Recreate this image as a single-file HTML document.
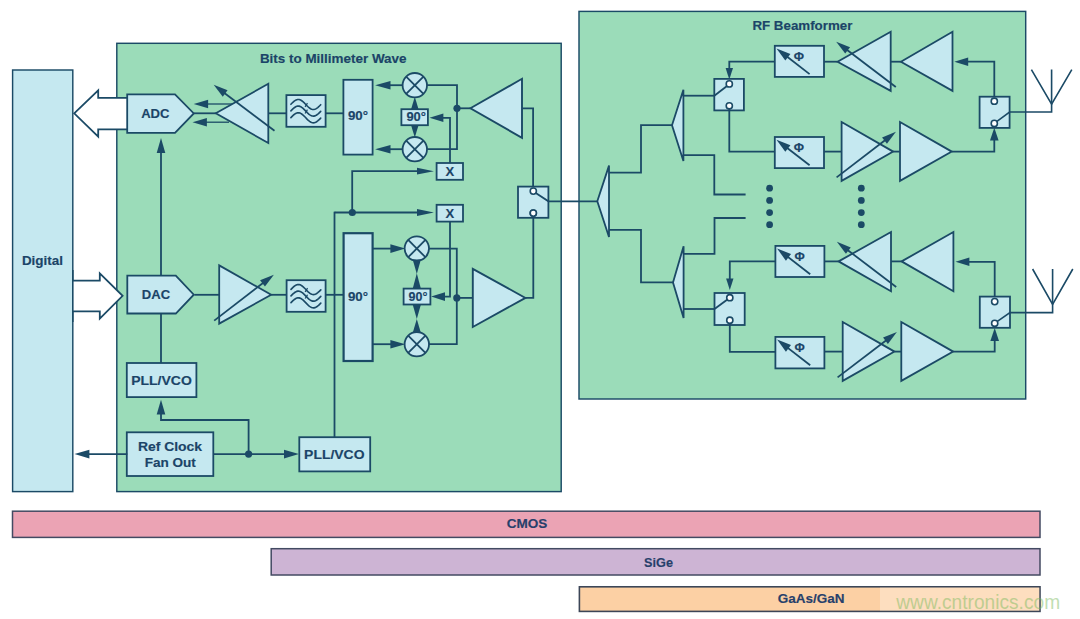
<!DOCTYPE html>
<html lang="en"><head><meta charset="utf-8"><title>Bits to Millimeter Wave / RF Beamformer block diagram</title>
<style>html,body{margin:0;padding:0;background:#fff;}body{width:1080px;height:619px;overflow:hidden;}svg{display:block;font-family:"Liberation Sans",Arial,Helvetica,sans-serif;}</style></head><body>
<svg width="1080" height="619" viewBox="0 0 1080 619">
<rect x="0" y="0" width="1080" height="619" fill="#ffffff"/>
<rect x="12.6" y="70" width="60.2" height="421.6" fill="#c5e8f0" stroke="#1b4a66" stroke-width="1.45"/>
<rect x="116.8" y="43.3" width="444.4" height="448.3" fill="#9bdcb9" stroke="#1b4a66" stroke-width="1.45"/>
<rect x="579" y="11.4" width="446.7" height="387.6" fill="#9bdcb9" stroke="#1b4a66" stroke-width="1.45"/>
<text x="42.4" y="264.6" font-size="12.6" font-weight="bold" text-anchor="middle" fill="#1b4468" stroke="#1b4468" stroke-width="0.15" textLength="41" lengthAdjust="spacingAndGlyphs">Digital</text>
<text x="333.2" y="62.8" font-size="12.6" font-weight="bold" text-anchor="middle" fill="#1b4468" stroke="#1b4468" stroke-width="0.15" textLength="146.6" lengthAdjust="spacingAndGlyphs">Bits to Millimeter Wave</text>
<text x="802.4" y="29.7" font-size="12.6" font-weight="bold" text-anchor="middle" fill="#1b4468" stroke="#1b4468" stroke-width="0.15" textLength="100" lengthAdjust="spacingAndGlyphs">RF Beamformer</text>
<rect x="12.5" y="511.2" width="1027.5" height="26.2" fill="#eba3b4" stroke="#434a62" stroke-width="1.5"/>
<rect x="271.2" y="548.7" width="768.8" height="26.3" fill="#cdb4d4" stroke="#434a62" stroke-width="1.5"/>
<rect x="579.4" y="586.8" width="460.6" height="24.6" fill="#fcd0a4" stroke="#3c4658" stroke-width="1.6"/>
<text x="527" y="527.9" font-size="12.6" font-weight="bold" text-anchor="middle" fill="#27406b" stroke="#27406b" stroke-width="0.15" textLength="40.6" lengthAdjust="spacingAndGlyphs">CMOS</text>
<text x="658.5" y="566.5" font-size="12.6" font-weight="bold" text-anchor="middle" fill="#27406b" stroke="#27406b" stroke-width="0.15" textLength="28.9" lengthAdjust="spacingAndGlyphs">SiGe</text>
<text x="811.1" y="603.1" font-size="12.6" font-weight="bold" text-anchor="middle" fill="#27406b" stroke="#27406b" stroke-width="0.15" textLength="66.6" lengthAdjust="spacingAndGlyphs">GaAs/GaN</text>
<rect x="880" y="587.5" width="159.4" height="23.2" fill="#ffffff" opacity="0.3"/>
<text x="896.3" y="609.3" font-size="19.6" font-weight="normal" text-anchor="start" fill="#78b95a" textLength="163.8" lengthAdjust="spacingAndGlyphs" opacity="0.46">www.cntronics.com</text>
<polygon points="74.2,113.3 98.2,90.4 98.2,97.8 128,97.8 128,129.3 98.2,129.3 98.2,136.6" fill="#ffffff" stroke="#1b4a66" stroke-width="1.8" stroke-linejoin="miter"/>
<path d="M72.8,280.6 L99.8,280.6 L99.8,273.4 L122.6,295.8 L99.8,318.6 L99.8,311.4 L72.8,311.4" fill="#ffffff" stroke="#1b4a66" stroke-width="1.8" stroke-linejoin="miter"/>
<polyline points="72.8,270 72.8,322" fill="none" stroke="#1b4a66" stroke-width="1.6" stroke-linejoin="miter" stroke-linecap="butt"/>
<polygon points="127.2,94.4 175,94.4 193.8,113.4 175,132.8 127.2,132.8" fill="#c5e8f0" stroke="#1b4a66" stroke-width="1.8" stroke-linejoin="miter"/>
<text x="155.3" y="118" font-size="12.6" font-weight="bold" text-anchor="middle" fill="#1b4468" stroke="#1b4468" stroke-width="0.15" textLength="28.3" lengthAdjust="spacingAndGlyphs">ADC</text>
<polygon points="127.3,275.7 175.8,275.7 193.8,294.7 175.8,313.5 127.3,313.5" fill="#c5e8f0" stroke="#1b4a66" stroke-width="1.8" stroke-linejoin="miter"/>
<text x="156" y="299.4" font-size="12.6" font-weight="bold" text-anchor="middle" fill="#1b4468" stroke="#1b4468" stroke-width="0.15" textLength="28.3" lengthAdjust="spacingAndGlyphs">DAC</text>
<polyline points="161,275.6 161,150.2" fill="none" stroke="#1b4a66" stroke-width="1.8" stroke-linejoin="miter" stroke-linecap="butt"/>
<polygon points="161,138.1 165.3,153 156.7,153" fill="#1b4a66"/>
<polyline points="161,313.8 161,363.5" fill="none" stroke="#1b4a66" stroke-width="1.8" stroke-linejoin="miter" stroke-linecap="butt"/>
<rect x="126.8" y="363" width="69.6" height="34.1" fill="#c5e8f0" stroke="#1b4a66" stroke-width="1.8"/>
<text x="161.5" y="385" font-size="12.6" font-weight="bold" text-anchor="middle" fill="#1b4468" stroke="#1b4468" stroke-width="0.15" textLength="60.6" lengthAdjust="spacingAndGlyphs">PLL/VCO</text>
<rect x="126.8" y="432.3" width="86.5" height="43.7" fill="#c5e8f0" stroke="#1b4a66" stroke-width="1.8"/>
<text x="170" y="450.9" font-size="12.6" font-weight="bold" text-anchor="middle" fill="#1b4468" stroke="#1b4468" stroke-width="0.15" textLength="64.2" lengthAdjust="spacingAndGlyphs">Ref Clock</text>
<text x="170.3" y="467.3" font-size="12.6" font-weight="bold" text-anchor="middle" fill="#1b4468" stroke="#1b4468" stroke-width="0.15" textLength="51.2" lengthAdjust="spacingAndGlyphs">Fan Out</text>
<polyline points="127.3,454.1 86.6,454.1" fill="none" stroke="#1b4a66" stroke-width="1.8" stroke-linejoin="miter" stroke-linecap="butt"/>
<polygon points="74.5,454.1 89.4,449.8 89.4,458.4" fill="#1b4a66"/>
<polyline points="213,454.1 286.8,454.1" fill="none" stroke="#1b4a66" stroke-width="1.8" stroke-linejoin="miter" stroke-linecap="butt"/>
<polygon points="298.9,454.1 284,458.4 284,449.8" fill="#1b4a66"/>
<circle cx="248.6" cy="454.1" r="3.6" fill="#1b4a66"/>
<polyline points="248.6,454.1 248.6,420 161,420 161,411.8" fill="none" stroke="#1b4a66" stroke-width="1.8" stroke-linejoin="miter" stroke-linecap="butt"/>
<polygon points="161,399.7 165.3,414.6 156.7,414.6" fill="#1b4a66"/>
<rect x="299.3" y="437.2" width="70.9" height="34.2" fill="#c5e8f0" stroke="#1b4a66" stroke-width="1.8"/>
<text x="334.3" y="459" font-size="12.6" font-weight="bold" text-anchor="middle" fill="#1b4468" stroke="#1b4468" stroke-width="0.15" textLength="60.4" lengthAdjust="spacingAndGlyphs">PLL/VCO</text>
<polyline points="334.5,437.2 334.5,211.7" fill="none" stroke="#1b4a66" stroke-width="1.8" stroke-linejoin="miter" stroke-linecap="butt"/>
<polyline points="193.8,113.3 216,113.3" fill="none" stroke="#1b4a66" stroke-width="1.8" stroke-linejoin="miter" stroke-linecap="butt"/>
<polyline points="234,104 205.4,104" fill="none" stroke="#1b4a66" stroke-width="1.3" stroke-linejoin="miter" stroke-linecap="butt"/>
<polygon points="193.7,104 208.1,99.8 208.1,108.2" fill="#1b4a66"/>
<polyline points="229,122.2 204.2,122.2" fill="none" stroke="#1b4a66" stroke-width="1.3" stroke-linejoin="miter" stroke-linecap="butt"/>
<polygon points="192.5,122.2 206.9,118 206.9,126.4" fill="#1b4a66"/>
<polygon points="215.8,113.3 268.3,83.8 268.3,143" fill="#c5e8f0" stroke="#1b4a66" stroke-width="1.8" stroke-linejoin="miter"/>
<polyline points="274.5,130.8 223.02,91.91" fill="none" stroke="#1b4a66" stroke-width="1.8" stroke-linejoin="miter" stroke-linecap="butt"/>
<polygon points="213.68,84.86 227.58,90.35 222.76,96.73" fill="#1b4a66"/>
<polyline points="268.3,113.3 286.4,113.3" fill="none" stroke="#1b4a66" stroke-width="1.8" stroke-linejoin="miter" stroke-linecap="butt"/>
<rect x="286.4" y="95.1" width="39.2" height="31.7" fill="#c5e8f0" stroke="#1b4a66" stroke-width="1.8"/>
<polyline points="290.9,104.25 291.65,103.5 292.39,102.76 293.14,102.06 293.88,101.42 294.63,100.85 295.37,100.36 296.12,99.97 296.86,99.69 297.61,99.52 298.35,99.47 299.1,99.55 299.84,99.74 300.59,100.05 301.33,100.46 302.08,100.97 302.82,101.57 303.57,102.24 304.31,102.96 305.06,103.72 305.8,104.5 306.55,105.28 307.29,106.04 308.04,106.76 308.78,107.43 309.53,108.03 310.27,108.54 311.02,108.95 311.76,109.26 312.51,109.45 313.25,109.53 314,109.48 314.74,109.31 315.49,109.03 316.23,108.64 316.98,108.15 317.72,107.58 318.47,106.94 319.21,106.24 319.96,105.5 320.7,104.75" fill="none" stroke="#1b4a66" stroke-width="1.65" stroke-linecap="round" stroke-linejoin="round"/>
<polyline points="305.05,106.86 307.45,103.06" fill="none" stroke="#1b4a66" stroke-width="1.2" stroke-linejoin="miter" stroke-linecap="butt"/>
<polyline points="290.9,110.85 291.65,110.1 292.39,109.36 293.14,108.66 293.88,108.02 294.63,107.45 295.37,106.96 296.12,106.57 296.86,106.29 297.61,106.12 298.35,106.07 299.1,106.15 299.84,106.34 300.59,106.65 301.33,107.06 302.08,107.57 302.82,108.17 303.57,108.84 304.31,109.56 305.06,110.32 305.8,111.1 306.55,111.88 307.29,112.64 308.04,113.36 308.78,114.03 309.53,114.63 310.27,115.14 311.02,115.55 311.76,115.86 312.51,116.05 313.25,116.12 314,116.08 314.74,115.91 315.49,115.63 316.23,115.24 316.98,114.75 317.72,114.18 318.47,113.54 319.21,112.84 319.96,112.1 320.7,111.35" fill="none" stroke="#1b4a66" stroke-width="1.65" stroke-linecap="round" stroke-linejoin="round"/>
<polyline points="305.05,113.46 307.45,109.66" fill="none" stroke="#1b4a66" stroke-width="1.2" stroke-linejoin="miter" stroke-linecap="butt"/>
<polyline points="290.9,117.55 291.65,116.8 292.39,116.06 293.14,115.36 293.88,114.72 294.63,114.15 295.37,113.66 296.12,113.27 296.86,112.99 297.61,112.82 298.35,112.77 299.1,112.85 299.84,113.04 300.59,113.35 301.33,113.76 302.08,114.27 302.82,114.87 303.57,115.54 304.31,116.26 305.06,117.02 305.8,117.8 306.55,118.58 307.29,119.34 308.04,120.06 308.78,120.73 309.53,121.33 310.27,121.84 311.02,122.25 311.76,122.56 312.51,122.75 313.25,122.83 314,122.78 314.74,122.61 315.49,122.33 316.23,121.94 316.98,121.45 317.72,120.88 318.47,120.24 319.21,119.54 319.96,118.8 320.7,118.05" fill="none" stroke="#1b4a66" stroke-width="1.65" stroke-linecap="round" stroke-linejoin="round"/>
<polyline points="325.6,113.3 343.4,113.3" fill="none" stroke="#1b4a66" stroke-width="1.8" stroke-linejoin="miter" stroke-linecap="butt"/>
<rect x="343.4" y="79.8" width="29.2" height="74.8" fill="#c5e8f0" stroke="#1b4a66" stroke-width="1.8"/>
<text x="358" y="119.9" font-size="12.8" font-weight="bold" text-anchor="middle" fill="#1b4468" stroke="#1b4468" stroke-width="0.15" textLength="20.1" lengthAdjust="spacingAndGlyphs">90&#176;</text>
<polyline points="402.8,85.2 387.6,85.2" fill="none" stroke="#1b4a66" stroke-width="1.8" stroke-linejoin="miter" stroke-linecap="butt"/>
<polygon points="375.1,85.2 390.5,80.9 390.5,89.5" fill="#1b4a66"/>
<polyline points="402.8,149.2 387.6,149.2" fill="none" stroke="#1b4a66" stroke-width="1.8" stroke-linejoin="miter" stroke-linecap="butt"/>
<polygon points="375.1,149.2 390.5,144.9 390.5,153.5" fill="#1b4a66"/>
<polyline points="426.8,85.2 457,85.2 457,149.2 426.8,149.2" fill="none" stroke="#1b4a66" stroke-width="1.8" stroke-linejoin="miter" stroke-linecap="butt"/>
<circle cx="414.8" cy="85.2" r="12.2" fill="#c5e8f0" stroke="#1b4a66" stroke-width="1.8"/>
<polyline points="406.17,76.57 423.43,93.83" fill="none" stroke="#1b4a66" stroke-width="1.8" stroke-linejoin="miter" stroke-linecap="butt"/>
<polyline points="406.17,93.83 423.43,76.57" fill="none" stroke="#1b4a66" stroke-width="1.8" stroke-linejoin="miter" stroke-linecap="butt"/>
<circle cx="414.8" cy="149.2" r="12.2" fill="#c5e8f0" stroke="#1b4a66" stroke-width="1.8"/>
<polyline points="406.17,140.57 423.43,157.83" fill="none" stroke="#1b4a66" stroke-width="1.8" stroke-linejoin="miter" stroke-linecap="butt"/>
<polyline points="406.17,157.83 423.43,140.57" fill="none" stroke="#1b4a66" stroke-width="1.8" stroke-linejoin="miter" stroke-linecap="butt"/>
<rect x="401.4" y="109.2" width="26.5" height="16" fill="#c5e8f0" stroke="#1b4a66" stroke-width="1.8"/>
<text x="416.2" y="121.4" font-size="12.3" font-weight="bold" text-anchor="middle" fill="#1b4468" stroke="#1b4468" stroke-width="0.15" textLength="19.6" lengthAdjust="spacingAndGlyphs">90&#176;</text>
<polygon points="414.8,96.7 418.6,109.6 411,109.6" fill="#1b4a66"/>
<polygon points="414.8,137.5 411,125 418.6,125" fill="#1b4a66"/>
<circle cx="457" cy="108.3" r="3.6" fill="#1b4a66"/>
<polyline points="457,108.3 470.6,108.3" fill="none" stroke="#1b4a66" stroke-width="1.8" stroke-linejoin="miter" stroke-linecap="butt"/>
<polygon points="470.4,108.3 522,78.8 522,137.8" fill="#c5e8f0" stroke="#1b4a66" stroke-width="1.9" stroke-linejoin="miter"/>
<polyline points="522,108.3 533.1,108.3 533.1,188" fill="none" stroke="#1b4a66" stroke-width="1.8" stroke-linejoin="miter" stroke-linecap="butt"/>
<polyline points="450,163 450,117.8 440.8,117.8" fill="none" stroke="#1b4a66" stroke-width="1.8" stroke-linejoin="miter" stroke-linecap="butt"/>
<polygon points="429.5,117.8 443.4,113.5 443.4,122.1" fill="#1b4a66"/>
<rect x="436.6" y="163" width="26.4" height="16.8" fill="#c5e8f0" stroke="#1b4a66" stroke-width="1.8"/>
<text x="449.8" y="176.2" font-size="13" font-weight="bold" text-anchor="middle" fill="#1b4468" stroke="#1b4468" stroke-width="0.15">X</text>
<rect x="436.6" y="204.8" width="26.4" height="16.8" fill="#c5e8f0" stroke="#1b4a66" stroke-width="1.8"/>
<text x="449.8" y="218" font-size="13" font-weight="bold" text-anchor="middle" fill="#1b4468" stroke="#1b4468" stroke-width="0.15">X</text>
<polyline points="352.2,212.5 352.2,171.2 420.2,171.2" fill="none" stroke="#1b4a66" stroke-width="1.8" stroke-linejoin="miter" stroke-linecap="butt"/>
<polygon points="433.9,171.2 417,174.6 417,167.8" fill="#1b4a66"/>
<polyline points="334.5,212.5 420.2,212.5" fill="none" stroke="#1b4a66" stroke-width="1.8" stroke-linejoin="miter" stroke-linecap="butt"/>
<polygon points="433.9,212.5 417,215.9 417,209.1" fill="#1b4a66"/>
<circle cx="352.3" cy="212.5" r="3.6" fill="#1b4a66"/>
<polyline points="450,221.6 450,296.6 442.4,296.6" fill="none" stroke="#1b4a66" stroke-width="1.8" stroke-linejoin="miter" stroke-linecap="butt"/>
<polygon points="431.1,296.6 445,292.3 445,300.9" fill="#1b4a66"/>
<rect x="518" y="186.6" width="30.4" height="31.2" fill="#c5e8f0" stroke="#1b4a66" stroke-width="1.8"/>
<polyline points="535.4,192.8 548.4,201.3 597.3,201.3" fill="none" stroke="#1b4a66" stroke-width="1.8" stroke-linejoin="miter" stroke-linecap="butt"/>
<circle cx="533.3" cy="191.1" r="3.1" fill="#ffffff" stroke="#1b4a66" stroke-width="1.6"/>
<circle cx="533.3" cy="213.1" r="3.1" fill="#ffffff" stroke="#1b4a66" stroke-width="1.6"/>
<polyline points="194.4,294.8 219.2,294.8" fill="none" stroke="#1b4a66" stroke-width="1.8" stroke-linejoin="miter" stroke-linecap="butt"/>
<polygon points="219.2,265.4 271.2,294.8 219.2,323.6" fill="#c5e8f0" stroke="#1b4a66" stroke-width="1.8" stroke-linejoin="miter"/>
<polyline points="214.2,320.6 264.64,281.79" fill="none" stroke="#1b4a66" stroke-width="1.8" stroke-linejoin="miter" stroke-linecap="butt"/>
<polygon points="273.91,274.65 264.94,286.6 260.06,280.26" fill="#1b4a66"/>
<polyline points="271.2,294.8 286.6,294.8" fill="none" stroke="#1b4a66" stroke-width="1.8" stroke-linejoin="miter" stroke-linecap="butt"/>
<rect x="286.6" y="280.2" width="39" height="31.6" fill="#c5e8f0" stroke="#1b4a66" stroke-width="1.8"/>
<polyline points="291,289.3 291.75,288.55 292.49,287.81 293.24,287.11 293.98,286.47 294.73,285.9 295.47,285.41 296.22,285.02 296.96,284.74 297.71,284.57 298.45,284.52 299.2,284.6 299.94,284.79 300.69,285.1 301.43,285.51 302.18,286.02 302.92,286.62 303.67,287.29 304.41,288.01 305.16,288.77 305.9,289.55 306.65,290.33 307.39,291.09 308.14,291.81 308.88,292.48 309.63,293.08 310.37,293.59 311.12,294 311.86,294.31 312.61,294.5 313.35,294.57 314.1,294.53 314.84,294.36 315.59,294.08 316.33,293.69 317.08,293.2 317.82,292.63 318.57,291.99 319.31,291.29 320.06,290.55 320.8,289.8" fill="none" stroke="#1b4a66" stroke-width="1.65" stroke-linecap="round" stroke-linejoin="round"/>
<polyline points="305.15,291.91 307.55,288.11" fill="none" stroke="#1b4a66" stroke-width="1.2" stroke-linejoin="miter" stroke-linecap="butt"/>
<polyline points="291,295.9 291.75,295.15 292.49,294.41 293.24,293.71 293.98,293.07 294.73,292.5 295.47,292.01 296.22,291.62 296.96,291.34 297.71,291.17 298.45,291.12 299.2,291.2 299.94,291.39 300.69,291.7 301.43,292.11 302.18,292.62 302.92,293.22 303.67,293.89 304.41,294.61 305.16,295.37 305.9,296.15 306.65,296.93 307.39,297.69 308.14,298.41 308.88,299.08 309.63,299.68 310.37,300.19 311.12,300.6 311.86,300.91 312.61,301.1 313.35,301.17 314.1,301.13 314.84,300.96 315.59,300.68 316.33,300.29 317.08,299.8 317.82,299.23 318.57,298.59 319.31,297.89 320.06,297.15 320.8,296.4" fill="none" stroke="#1b4a66" stroke-width="1.65" stroke-linecap="round" stroke-linejoin="round"/>
<polyline points="305.15,298.51 307.55,294.71" fill="none" stroke="#1b4a66" stroke-width="1.2" stroke-linejoin="miter" stroke-linecap="butt"/>
<polyline points="291,302.6 291.75,301.85 292.49,301.11 293.24,300.41 293.98,299.77 294.73,299.2 295.47,298.71 296.22,298.32 296.96,298.04 297.71,297.87 298.45,297.82 299.2,297.9 299.94,298.09 300.69,298.4 301.43,298.81 302.18,299.32 302.92,299.92 303.67,300.59 304.41,301.31 305.16,302.07 305.9,302.85 306.65,303.63 307.39,304.39 308.14,305.11 308.88,305.78 309.63,306.38 310.37,306.89 311.12,307.3 311.86,307.61 312.61,307.8 313.35,307.87 314.1,307.83 314.84,307.66 315.59,307.38 316.33,306.99 317.08,306.5 317.82,305.93 318.57,305.29 319.31,304.59 320.06,303.85 320.8,303.1" fill="none" stroke="#1b4a66" stroke-width="1.65" stroke-linecap="round" stroke-linejoin="round"/>
<polyline points="325.6,294.8 343.4,294.8" fill="none" stroke="#1b4a66" stroke-width="1.8" stroke-linejoin="miter" stroke-linecap="butt"/>
<rect x="343.6" y="233.2" width="29" height="127.8" fill="#c5e8f0" stroke="#1b4a66" stroke-width="2.2"/>
<text x="358" y="300.6" font-size="12.8" font-weight="bold" text-anchor="middle" fill="#1b4468" stroke="#1b4468" stroke-width="0.15" textLength="20.1" lengthAdjust="spacingAndGlyphs">90&#176;</text>
<polyline points="372.6,248.6 393.2,248.6" fill="none" stroke="#1b4a66" stroke-width="1.8" stroke-linejoin="miter" stroke-linecap="butt"/>
<polygon points="405.3,248.6 390.4,252.9 390.4,244.3" fill="#1b4a66"/>
<polyline points="372.6,344.2 393.2,344.2" fill="none" stroke="#1b4a66" stroke-width="1.8" stroke-linejoin="miter" stroke-linecap="butt"/>
<polygon points="405.3,344.2 390.4,348.5 390.4,339.9" fill="#1b4a66"/>
<polyline points="428.8,248.6 456.8,248.6 456.8,344.2 428.8,344.2" fill="none" stroke="#1b4a66" stroke-width="1.8" stroke-linejoin="miter" stroke-linecap="butt"/>
<circle cx="416.8" cy="248.6" r="12.2" fill="#c5e8f0" stroke="#1b4a66" stroke-width="1.8"/>
<polyline points="408.17,239.97 425.43,257.23" fill="none" stroke="#1b4a66" stroke-width="1.8" stroke-linejoin="miter" stroke-linecap="butt"/>
<polyline points="408.17,257.23 425.43,239.97" fill="none" stroke="#1b4a66" stroke-width="1.8" stroke-linejoin="miter" stroke-linecap="butt"/>
<circle cx="416.8" cy="344.2" r="12.2" fill="#c5e8f0" stroke="#1b4a66" stroke-width="1.8"/>
<polyline points="408.17,335.57 425.43,352.83" fill="none" stroke="#1b4a66" stroke-width="1.8" stroke-linejoin="miter" stroke-linecap="butt"/>
<polyline points="408.17,352.83 425.43,335.57" fill="none" stroke="#1b4a66" stroke-width="1.8" stroke-linejoin="miter" stroke-linecap="butt"/>
<rect x="403.6" y="288.6" width="26.8" height="15.9" fill="#c5e8f0" stroke="#1b4a66" stroke-width="1.8"/>
<text x="418" y="300.8" font-size="12.3" font-weight="bold" text-anchor="middle" fill="#1b4468" stroke="#1b4468" stroke-width="0.15" textLength="18.9" lengthAdjust="spacingAndGlyphs">90&#176;</text>
<polygon points="416.8,274.1 412.7,259.6 420.9,259.6" fill="#1b4a66"/>
<polygon points="416.8,273.3 420.9,288.8 412.7,288.8" fill="#1b4a66"/>
<polygon points="416.8,319.1 412.7,304.4 420.9,304.4" fill="#1b4a66"/>
<polygon points="416.8,319.1 420.9,333 412.7,333" fill="#1b4a66"/>
<circle cx="456.8" cy="297.9" r="3.6" fill="#1b4a66"/>
<polyline points="456.8,297.9 472.8,297.9" fill="none" stroke="#1b4a66" stroke-width="1.8" stroke-linejoin="miter" stroke-linecap="butt"/>
<polygon points="472.8,268.8 525.4,297.9 472.8,327" fill="#c5e8f0" stroke="#1b4a66" stroke-width="1.9" stroke-linejoin="miter"/>
<polyline points="525.4,297.9 533.3,297.9 533.3,216.4" fill="none" stroke="#1b4a66" stroke-width="1.8" stroke-linejoin="miter" stroke-linecap="butt"/>
<circle cx="533.3" cy="213.1" r="3.1" fill="#ffffff" stroke="#1b4a66" stroke-width="1.6"/>
<polygon points="597.3,201.3 609,165.6 609,237" fill="#c5e8f0" stroke="#1b4a66" stroke-width="1.8" stroke-linejoin="miter"/>
<polygon points="672,125.2 683.4,89.8 683.4,161" fill="#c5e8f0" stroke="#1b4a66" stroke-width="1.8" stroke-linejoin="miter"/>
<polygon points="673,282.4 683.6,246.2 683.6,318" fill="#c5e8f0" stroke="#1b4a66" stroke-width="1.8" stroke-linejoin="miter"/>
<polyline points="609,172.6 641,172.6 641,125.2 672,125.2" fill="none" stroke="#1b4a66" stroke-width="1.8" stroke-linejoin="miter" stroke-linecap="butt"/>
<polyline points="609,229.8 641,229.8 641,282.4 673,282.4" fill="none" stroke="#1b4a66" stroke-width="1.8" stroke-linejoin="miter" stroke-linecap="butt"/>
<polyline points="683.4,95.7 714.3,95.7" fill="none" stroke="#1b4a66" stroke-width="1.8" stroke-linejoin="miter" stroke-linecap="butt"/>
<polyline points="683.4,155.2 714.3,155.2 714.3,194.5 745.6,194.5" fill="none" stroke="#1b4a66" stroke-width="1.8" stroke-linejoin="miter" stroke-linecap="butt"/>
<polyline points="683.6,253.8 714.5,253.8 714.5,218 745.6,218" fill="none" stroke="#1b4a66" stroke-width="1.8" stroke-linejoin="miter" stroke-linecap="butt"/>
<polyline points="683.6,309 714.5,309" fill="none" stroke="#1b4a66" stroke-width="1.8" stroke-linejoin="miter" stroke-linecap="butt"/>
<circle cx="769.6" cy="188.2" r="3.4" fill="#1b4a66"/>
<circle cx="769.6" cy="200.4" r="3.4" fill="#1b4a66"/>
<circle cx="769.6" cy="212.6" r="3.4" fill="#1b4a66"/>
<circle cx="769.6" cy="224.7" r="3.4" fill="#1b4a66"/>
<circle cx="861.3" cy="188.2" r="3.4" fill="#1b4a66"/>
<circle cx="861.3" cy="200.4" r="3.4" fill="#1b4a66"/>
<circle cx="861.3" cy="212.6" r="3.4" fill="#1b4a66"/>
<circle cx="861.3" cy="224.7" r="3.4" fill="#1b4a66"/>
<rect x="714.3" y="78.9" width="29.6" height="31.5" fill="#c5e8f0" stroke="#1b4a66" stroke-width="1.8"/>
<polyline points="714.3,95.7 727,86" fill="none" stroke="#1b4a66" stroke-width="1.8" stroke-linejoin="miter" stroke-linecap="butt"/>
<polyline points="774.8,61.7 729.3,61.7 729.3,70.2" fill="none" stroke="#1b4a66" stroke-width="1.8" stroke-linejoin="miter" stroke-linecap="butt"/>
<polygon points="729.3,79.5 725.6,68.1 733,68.1" fill="#1b4a66"/>
<polyline points="729.3,108 729.3,151.6 774.8,151.6" fill="none" stroke="#1b4a66" stroke-width="1.8" stroke-linejoin="miter" stroke-linecap="butt"/>
<circle cx="729.3" cy="83.9" r="3.1" fill="#ffffff" stroke="#1b4a66" stroke-width="1.6"/>
<circle cx="729.3" cy="105.8" r="3.1" fill="#ffffff" stroke="#1b4a66" stroke-width="1.6"/>
<rect x="774.8" y="45.8" width="49.2" height="31.1" fill="#c5e8f0" stroke="#1b4a66" stroke-width="1.8"/>
<polyline points="809.6,74.1 784.31,54.51" fill="none" stroke="#1b4a66" stroke-width="1.8" stroke-linejoin="miter" stroke-linecap="butt"/>
<polygon points="776.49,48.45 790.44,53.95 785.3,60.59" fill="#1b4a66"/>
<text x="799" y="61" font-size="12.5" font-weight="bold" text-anchor="middle" fill="#1b4468" stroke="#1b4468" stroke-width="0.15">&#934;</text>
<rect x="774.8" y="137" width="49.2" height="31.1" fill="#c5e8f0" stroke="#1b4a66" stroke-width="1.8"/>
<polyline points="809.6,165.3 784.31,145.71" fill="none" stroke="#1b4a66" stroke-width="1.8" stroke-linejoin="miter" stroke-linecap="butt"/>
<polygon points="776.49,139.65 790.44,145.15 785.3,151.79" fill="#1b4a66"/>
<text x="799" y="152.2" font-size="12.5" font-weight="bold" text-anchor="middle" fill="#1b4468" stroke="#1b4468" stroke-width="0.15">&#934;</text>
<polyline points="824,61.7 837.6,61.7" fill="none" stroke="#1b4a66" stroke-width="1.8" stroke-linejoin="miter" stroke-linecap="butt"/>
<polygon points="837.5,61.7 890.7,31.8 890.7,90.9" fill="#c5e8f0" stroke="#1b4a66" stroke-width="1.8" stroke-linejoin="miter"/>
<polyline points="895.8,87 845.5,48.74" fill="none" stroke="#1b4a66" stroke-width="1.8" stroke-linejoin="miter" stroke-linecap="butt"/>
<polygon points="836.18,41.66 850.07,47.19 845.22,53.56" fill="#1b4a66"/>
<polyline points="890.7,61.7 900.9,61.7" fill="none" stroke="#1b4a66" stroke-width="1.8" stroke-linejoin="miter" stroke-linecap="butt"/>
<polygon points="900.9,61.7 952.5,31.8 952.5,90.9" fill="#c5e8f0" stroke="#1b4a66" stroke-width="1.8" stroke-linejoin="miter"/>
<polyline points="994.3,98 994.3,61.7 965.6,61.7" fill="none" stroke="#1b4a66" stroke-width="1.8" stroke-linejoin="miter" stroke-linecap="butt"/>
<polygon points="954.3,61.7 968.2,57.4 968.2,66" fill="#1b4a66"/>
<polyline points="824,151.6 841.6,151.6" fill="none" stroke="#1b4a66" stroke-width="1.8" stroke-linejoin="miter" stroke-linecap="butt"/>
<polygon points="841.6,122 893.2,151.6 841.6,180.9" fill="#c5e8f0" stroke="#1b4a66" stroke-width="1.8" stroke-linejoin="miter"/>
<polyline points="836.6,177.4 886.63,138.98" fill="none" stroke="#1b4a66" stroke-width="1.8" stroke-linejoin="miter" stroke-linecap="butt"/>
<polygon points="895.91,131.85 886.93,143.79 882.06,137.45" fill="#1b4a66"/>
<polyline points="893.2,151.6 900,151.6" fill="none" stroke="#1b4a66" stroke-width="1.8" stroke-linejoin="miter" stroke-linecap="butt"/>
<polygon points="900,122 951.8,151.6 900,180.9" fill="#c5e8f0" stroke="#1b4a66" stroke-width="1.8" stroke-linejoin="miter"/>
<polyline points="951.8,151.6 994.3,151.6 994.3,138.2" fill="none" stroke="#1b4a66" stroke-width="1.8" stroke-linejoin="miter" stroke-linecap="butt"/>
<polygon points="994.3,127.7 998.6,140.6 990,140.6" fill="#1b4a66"/>
<rect x="979.6" y="96.7" width="30" height="31.2" fill="#c5e8f0" stroke="#1b4a66" stroke-width="1.8"/>
<polyline points="996.6,121.6 1009.6,112 1051.6,112 1051.6,69.6" fill="none" stroke="#1b4a66" stroke-width="1.6" stroke-linejoin="miter" stroke-linecap="butt"/>
<polyline points="1031.4,69.6 1051.6,104.2 1071.8,69.6" fill="none" stroke="#1b4a66" stroke-width="1.6" stroke-linejoin="miter" stroke-linecap="butt"/>
<circle cx="994.3" cy="101.2" r="3.1" fill="#ffffff" stroke="#1b4a66" stroke-width="1.6"/>
<circle cx="994.3" cy="123.4" r="3.1" fill="#ffffff" stroke="#1b4a66" stroke-width="1.6"/>
<rect x="714.5" y="293" width="30.2" height="32" fill="#c5e8f0" stroke="#1b4a66" stroke-width="1.8"/>
<polyline points="714.5,309 727.4,299.6" fill="none" stroke="#1b4a66" stroke-width="1.8" stroke-linejoin="miter" stroke-linecap="butt"/>
<polyline points="775.4,261.4 729.8,261.4 729.8,280.6" fill="none" stroke="#1b4a66" stroke-width="1.8" stroke-linejoin="miter" stroke-linecap="butt"/>
<polygon points="729.8,289.9 726.1,278.5 733.5,278.5" fill="#1b4a66"/>
<polyline points="729.8,322 729.8,351.8 775.4,351.8" fill="none" stroke="#1b4a66" stroke-width="1.8" stroke-linejoin="miter" stroke-linecap="butt"/>
<circle cx="729.8" cy="297.7" r="3.1" fill="#ffffff" stroke="#1b4a66" stroke-width="1.6"/>
<circle cx="729.8" cy="320.2" r="3.1" fill="#ffffff" stroke="#1b4a66" stroke-width="1.6"/>
<rect x="775.4" y="245.9" width="49" height="31.1" fill="#c5e8f0" stroke="#1b4a66" stroke-width="1.8"/>
<polyline points="810.2,274.2 784.91,254.61" fill="none" stroke="#1b4a66" stroke-width="1.8" stroke-linejoin="miter" stroke-linecap="butt"/>
<polygon points="777.09,248.55 791.04,254.05 785.9,260.69" fill="#1b4a66"/>
<text x="799.6" y="261.1" font-size="12.5" font-weight="bold" text-anchor="middle" fill="#1b4468" stroke="#1b4468" stroke-width="0.15">&#934;</text>
<rect x="775.4" y="336.9" width="49" height="31.5" fill="#c5e8f0" stroke="#1b4a66" stroke-width="1.8"/>
<polyline points="810.2,365.2 784.91,345.61" fill="none" stroke="#1b4a66" stroke-width="1.8" stroke-linejoin="miter" stroke-linecap="butt"/>
<polygon points="777.09,339.55 791.04,345.05 785.9,351.69" fill="#1b4a66"/>
<text x="799.6" y="352.1" font-size="12.5" font-weight="bold" text-anchor="middle" fill="#1b4468" stroke="#1b4468" stroke-width="0.15">&#934;</text>
<polyline points="824.4,261.4 838.6,261.4" fill="none" stroke="#1b4a66" stroke-width="1.8" stroke-linejoin="miter" stroke-linecap="butt"/>
<polygon points="838.6,261.4 891,232 891,291.2" fill="#c5e8f0" stroke="#1b4a66" stroke-width="1.8" stroke-linejoin="miter"/>
<polyline points="896.2,287 846.19,248.94" fill="none" stroke="#1b4a66" stroke-width="1.8" stroke-linejoin="miter" stroke-linecap="butt"/>
<polygon points="836.88,241.85 850.77,247.39 845.92,253.76" fill="#1b4a66"/>
<polyline points="891,261.4 901.6,261.4" fill="none" stroke="#1b4a66" stroke-width="1.8" stroke-linejoin="miter" stroke-linecap="butt"/>
<polygon points="901.6,261.4 953.4,232 953.4,291.2" fill="#c5e8f0" stroke="#1b4a66" stroke-width="1.8" stroke-linejoin="miter"/>
<polyline points="994.7,298 994.7,261.8 966.8,261.8" fill="none" stroke="#1b4a66" stroke-width="1.8" stroke-linejoin="miter" stroke-linecap="butt"/>
<polygon points="955.5,261.8 969.4,257.5 969.4,266.1" fill="#1b4a66"/>
<polyline points="824.4,351.6 842.7,351.6" fill="none" stroke="#1b4a66" stroke-width="1.8" stroke-linejoin="miter" stroke-linecap="butt"/>
<polygon points="842.7,322 894.5,351.6 842.7,380.9" fill="#c5e8f0" stroke="#1b4a66" stroke-width="1.8" stroke-linejoin="miter"/>
<polyline points="837.6,377.4 887.62,339.16" fill="none" stroke="#1b4a66" stroke-width="1.8" stroke-linejoin="miter" stroke-linecap="butt"/>
<polygon points="896.91,332.05 887.9,343.98 883.05,337.62" fill="#1b4a66"/>
<polyline points="894.5,351.6 901.3,351.6" fill="none" stroke="#1b4a66" stroke-width="1.8" stroke-linejoin="miter" stroke-linecap="butt"/>
<polygon points="901.3,322 953.2,351.6 901.3,380.9" fill="#c5e8f0" stroke="#1b4a66" stroke-width="1.8" stroke-linejoin="miter"/>
<polyline points="953.2,351.6 994.7,351.6 994.7,338.6" fill="none" stroke="#1b4a66" stroke-width="1.8" stroke-linejoin="miter" stroke-linecap="butt"/>
<polygon points="994.7,328.1 999,341 990.4,341" fill="#1b4a66"/>
<rect x="979.8" y="296.6" width="30.2" height="31.2" fill="#c5e8f0" stroke="#1b4a66" stroke-width="1.8"/>
<polyline points="997,321.6 1010,312.6 1052.6,312.6 1052.6,269" fill="none" stroke="#1b4a66" stroke-width="1.6" stroke-linejoin="miter" stroke-linecap="butt"/>
<polyline points="1032.6,269 1052.6,304.4 1072.8,269" fill="none" stroke="#1b4a66" stroke-width="1.6" stroke-linejoin="miter" stroke-linecap="butt"/>
<circle cx="994.7" cy="301.6" r="3.1" fill="#ffffff" stroke="#1b4a66" stroke-width="1.6"/>
<circle cx="994.7" cy="323.3" r="3.1" fill="#ffffff" stroke="#1b4a66" stroke-width="1.6"/>
</svg></body></html>
